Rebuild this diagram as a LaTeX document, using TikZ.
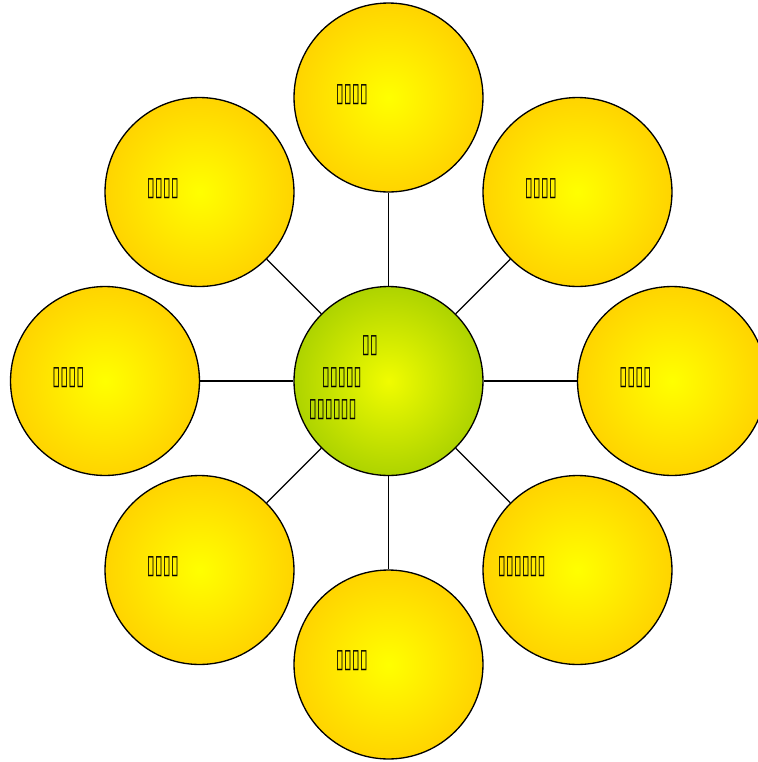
\documentclass[tikz,border=0pt]{standalone}
\usepackage{fontspec}
\newfontfamily\cajas{DejaVu Sans Bold}[FakeStretch=0.55]

\definecolor{oro}{RGB}{255,200,0}
\definecolor{amarillo}{RGB}{255,255,0}
\definecolor{verde}{RGB}{155,200,0}
\definecolor{lima}{RGB}{240,252,0}
\pgfdeclareradialshading{bolaoro}{\pgfpoint{0bp}{0bp}}{color(0bp)=(amarillo); color(32bp)=(oro); color(50bp)=(oro)}
\pgfdeclareradialshading{bolaverde}{\pgfpoint{0bp}{0bp}}{color(0bp)=(lima); color(32bp)=(verde); color(50bp)=(verde)}

\tikzset{
  bola/.style={circle, draw=black, line width=0.75pt, minimum size=3.78cm, inner sep=0pt, shading=bolaoro},
  bolacentro/.style={bola, shading=bolaverde},
  rotulo/.style={anchor=west, inner sep=0pt, font=\cajas\fontsize{15}{18}\selectfont},
  enlace/.style={line width=0.75pt}
}

\begin{document}
\begin{tikzpicture}[x=0.02cm, y=-0.02cm]
        \useasboundingbox (0,0) rectangle (758,762);

        % Paso 1: Dibuja el círculo central
        \node[bolacentro] (centro) at (388.5,381) {};

        % Paso 2: Dibuja los ocho círculos exteriores
        \node[bola] (arriba) at (388.5,97.5) {};
        \node[bola] (arribader) at (577.5,192) {};
        \node[bola] (derecha) at (672,381) {};
        \node[bola] (abajoder) at (577.5,570) {};
        \node[bola] (abajo) at (388.5,664.5) {};
        \node[bola] (abajoizq) at (199.5,570) {};
        \node[bola] (izquierda) at (105,381) {};
        \node[bola] (arribaizq) at (199.5,192) {};

        % Paso 3: Une el centro con cada círculo
        \draw[enlace] (centro) -- (arriba);
        \draw[enlace] (centro) -- (arribader);
        \draw[enlace] (centro) -- (derecha);
        \draw[enlace] (centro) -- (abajoder);
        \draw[enlace] (centro) -- (abajo);
        \draw[enlace] (centro) -- (abajoizq);
        \draw[enlace] (centro) -- (izquierda);
        \draw[enlace] (centro) -- (arribaizq);

        % Paso 4: Escribe los rótulos
        \node[rotulo] (tcentroa) at (361.5,346) {▯▯};
        \node[rotulo] (tcentrob) at (321.5,378) {▯▯▯▯▯};
        \node[rotulo] (tcentroc) at (308.5,410) {▯▯▯▯▯▯};
        \node[rotulo] (tarriba) at (335.5,95) {▯▯▯▯};
        \node[rotulo] (tarribader) at (524.5,189) {▯▯▯▯};
        \node[rotulo] (tderecha) at (619,378) {▯▯▯▯};
        \node[rotulo] (tabajoder) at (497.5,567) {▯▯▯▯▯▯};
        \node[rotulo] (tabajo) at (335.5,661) {▯▯▯▯};
        \node[rotulo] (tabajoizq) at (146.5,567) {▯▯▯▯};
        \node[rotulo] (tizquierda) at (52,378) {▯▯▯▯};
        \node[rotulo] (tarribaizq) at (146.5,189) {▯▯▯▯};
\end{tikzpicture}
\end{document}
